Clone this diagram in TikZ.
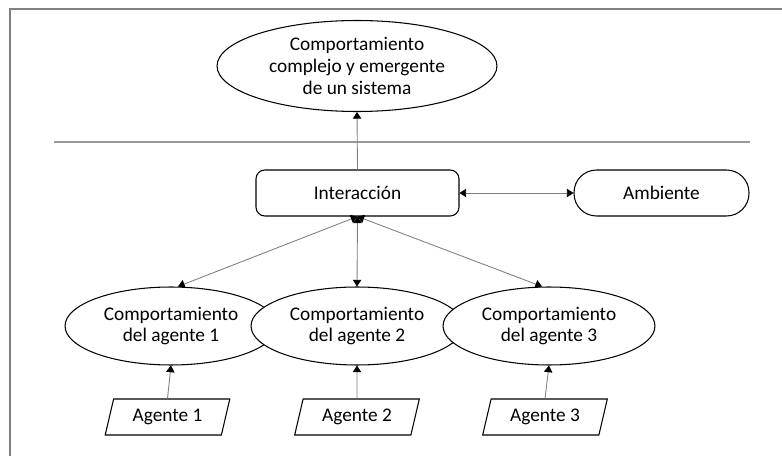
\documentclass[tikz,border=0pt]{standalone}
\usepackage{fontspec}
\setmainfont{Carlito}
\usetikzlibrary{shapes.geometric,arrows.meta}

\begin{document}
\begin{tikzpicture}[x=0.02cm, y=-0.02cm, font=\fontsize{11}{12.4}\selectfont,
    >={Triangle[length=3.8pt,width=4.8pt,color=black]},
    oval/.style={ellipse, draw, line width=0.6pt, fill=white, align=center, inner sep=0pt, minimum width=4.24cm, minimum height=1.56cm},
    caja/.style={draw, line width=0.6pt, rounded corners=5pt, minimum width=4.06cm, minimum height=0.92cm},
    entrada/.style={trapezium, trapezium left angle=77, trapezium right angle=103, trapezium stretches=true, draw, line width=0.6pt, minimum width=2.5cm, minimum height=0.72cm},
    flecha/.style={draw=gray, line width=0.5pt, ->}]
    \useasboundingbox (0,0) rectangle (782,456);
    \draw[gray, line width=0.8pt] (10,456) -- (10,9) -- (782,9);
    \node[oval, minimum width=5.6cm, minimum height=1.82cm] (sistema) at (357,66) {Comportamiento\\complejo y emergente\\de un sistema};
    \draw[gray!80, line width=0.6pt] (54,142) -- (750,142);
    \node[caja] (inter) at (357.5,193) {Interacción};
    \node[caja, rounded corners=0.45cm, minimum width=3.5cm] (amb) at (661.5,193) {Ambiente};
    \node[oval] (comp1) at (171,326) {Comportamiento\\del agente 1};
    \node[oval] (comp2) at (357,326) {Comportamiento\\del agente 2};
    \node[oval] (comp3) at (549,326) {Comportamiento\\del agente 3};
    \node[entrada] (ag1) at (167.5,417) {Agente 1};
    \node[entrada] (ag2) at (357,417) {Agente 2};
    \node[entrada] (ag3) at (545,417) {Agente 3};
    % conexiones
    \draw[flecha] (inter.north) -- (sistema.south);
    \draw[flecha, <->] (inter) -- (amb);
    \draw[flecha, <->] (inter.south) -- ([xshift=0.14cm]comp1.north);
    \draw[flecha, <->] (inter.south) -- (comp2.north);
    \draw[flecha, <->] (inter.south) -- ([xshift=-0.14cm]comp3.north);
    \draw[flecha] (ag1.north) -- (comp1.south);
    \draw[flecha] (ag2.north) -- (comp2.south);
    \draw[flecha] (ag3.north) -- (comp3.south);
\end{tikzpicture}
\end{document}
